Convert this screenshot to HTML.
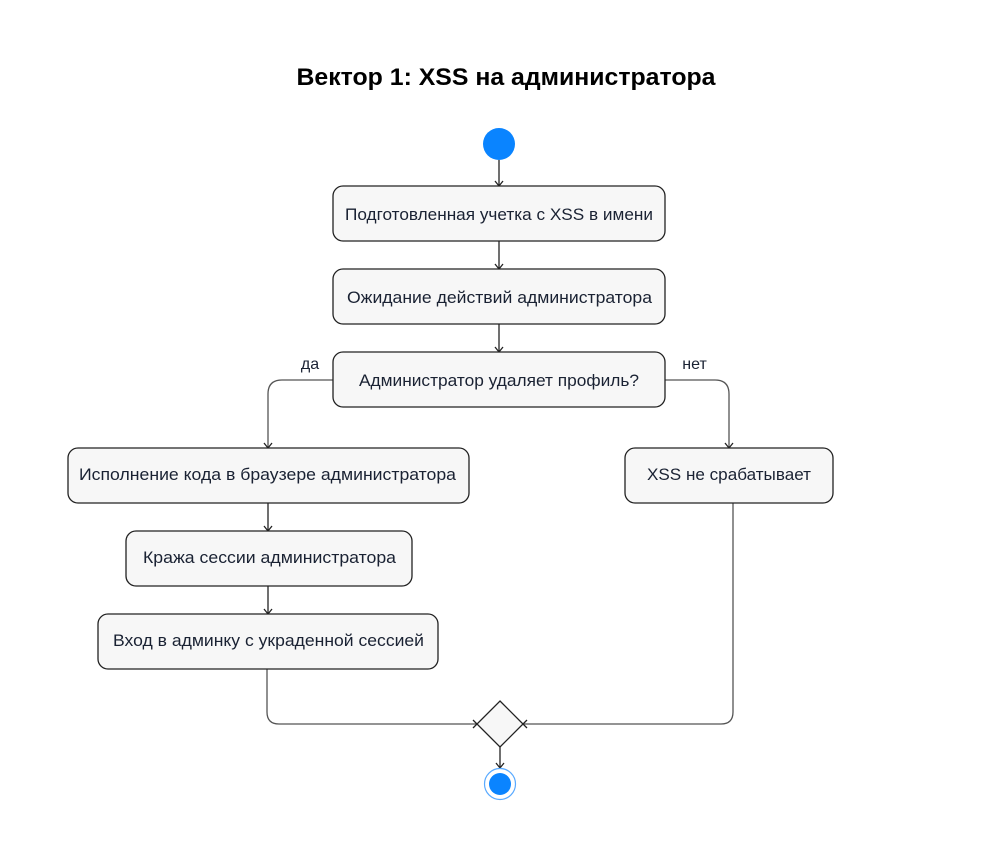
<!DOCTYPE html>
<html><head><meta charset="utf-8"><style>
html,body{margin:0;padding:0;background:#fff;}
svg text{font-family:"Liberation Sans","DejaVu Sans",sans-serif;}
</style></head><body>
<svg width="1000" height="858" viewBox="0 0 1000 858" xmlns="http://www.w3.org/2000/svg">
<text x="506" y="85" text-anchor="middle" font-size="24.5" font-weight="bold" fill="#000" textLength="419" lengthAdjust="spacingAndGlyphs">Вектор 1: XSS на администратора</text>
<g stroke="#222" stroke-width="1.3" fill="none">
<line x1="499" y1="160" x2="499" y2="186"/><path d="M495,181 L499,186 L503,181"/>
<line x1="499" y1="241" x2="499" y2="269"/><path d="M495,264 L499,269 L503,264"/>
<line x1="499" y1="324" x2="499" y2="352"/><path d="M495,347 L499,352 L503,347"/>
<path d="M333,380 H282 Q268,380 268,394 V448" stroke="#555"/><path d="M264,443 L268,448 L272,443"/>
<path d="M665,380 H715 Q729,380 729,394 V448" stroke="#555"/><path d="M725,443 L729,448 L733,443"/>
<line x1="268" y1="503" x2="268" y2="531"/><path d="M264,526 L268,531 L272,526"/>
<line x1="268" y1="586" x2="268" y2="614"/><path d="M264,609 L268,614 L272,609"/>
<path d="M267,669 V712 Q267,724 279,724 H477" stroke="#555"/><path d="M473,720 L477,724 L473,728"/>
<path d="M733,503 V712 Q733,724 721,724 H523" stroke="#555"/><path d="M527,720 L523,724 L527,728"/>
<line x1="500" y1="747" x2="500" y2="768"/><path d="M496,763 L500,768 L504,763"/>
</g>
<circle cx="499" cy="144" r="16" fill="#0a84ff"/>
<g fill="#f7f7f7" stroke="#222" stroke-width="1.3">
<rect x="333" y="186" width="332" height="55" rx="10"/>
<rect x="333" y="269" width="332" height="55" rx="10"/>
<rect x="333" y="352" width="332" height="55" rx="10"/>
<rect x="68" y="448" width="401" height="55" rx="10"/>
<rect x="126" y="531" width="286" height="55" rx="10"/>
<rect x="98" y="614" width="340" height="55" rx="10"/>
<rect x="625" y="448" width="208" height="55" rx="10"/>
<path d="M500,701 L523,724 L500,747 L477,724 Z"/>
</g>
<circle cx="500" cy="784" r="15.5" fill="#fff" stroke="#5aaaff" stroke-width="1.2"/>
<circle cx="500" cy="784" r="11" fill="#0a84ff"/>
<g font-size="17" fill="#1a2233" text-anchor="middle" lengthAdjust="spacingAndGlyphs">
<text x="499" y="220" textLength="308" lengthAdjust="spacingAndGlyphs">Подготовленная учетка с XSS в имени</text>
<text x="499.5" y="303" textLength="305" lengthAdjust="spacingAndGlyphs">Ожидание действий администратора</text>
<text x="499" y="386" textLength="280" lengthAdjust="spacingAndGlyphs">Администратор удаляет профиль?</text>
<text x="267.5" y="480" textLength="377" lengthAdjust="spacingAndGlyphs">Исполнение кода в браузере администратора</text>
<text x="269.5" y="563" textLength="253" lengthAdjust="spacingAndGlyphs">Кража сессии администратора</text>
<text x="268.5" y="646" textLength="311" lengthAdjust="spacingAndGlyphs">Вход в админку с украденной сессией</text>
<text x="729" y="480" textLength="164" lengthAdjust="spacingAndGlyphs">XSS не срабатывает</text>
<text x="310" y="369" font-size="16">да</text>
<text x="694.5" y="369" font-size="16">нет</text>
</g>
</svg>
</body></html>
